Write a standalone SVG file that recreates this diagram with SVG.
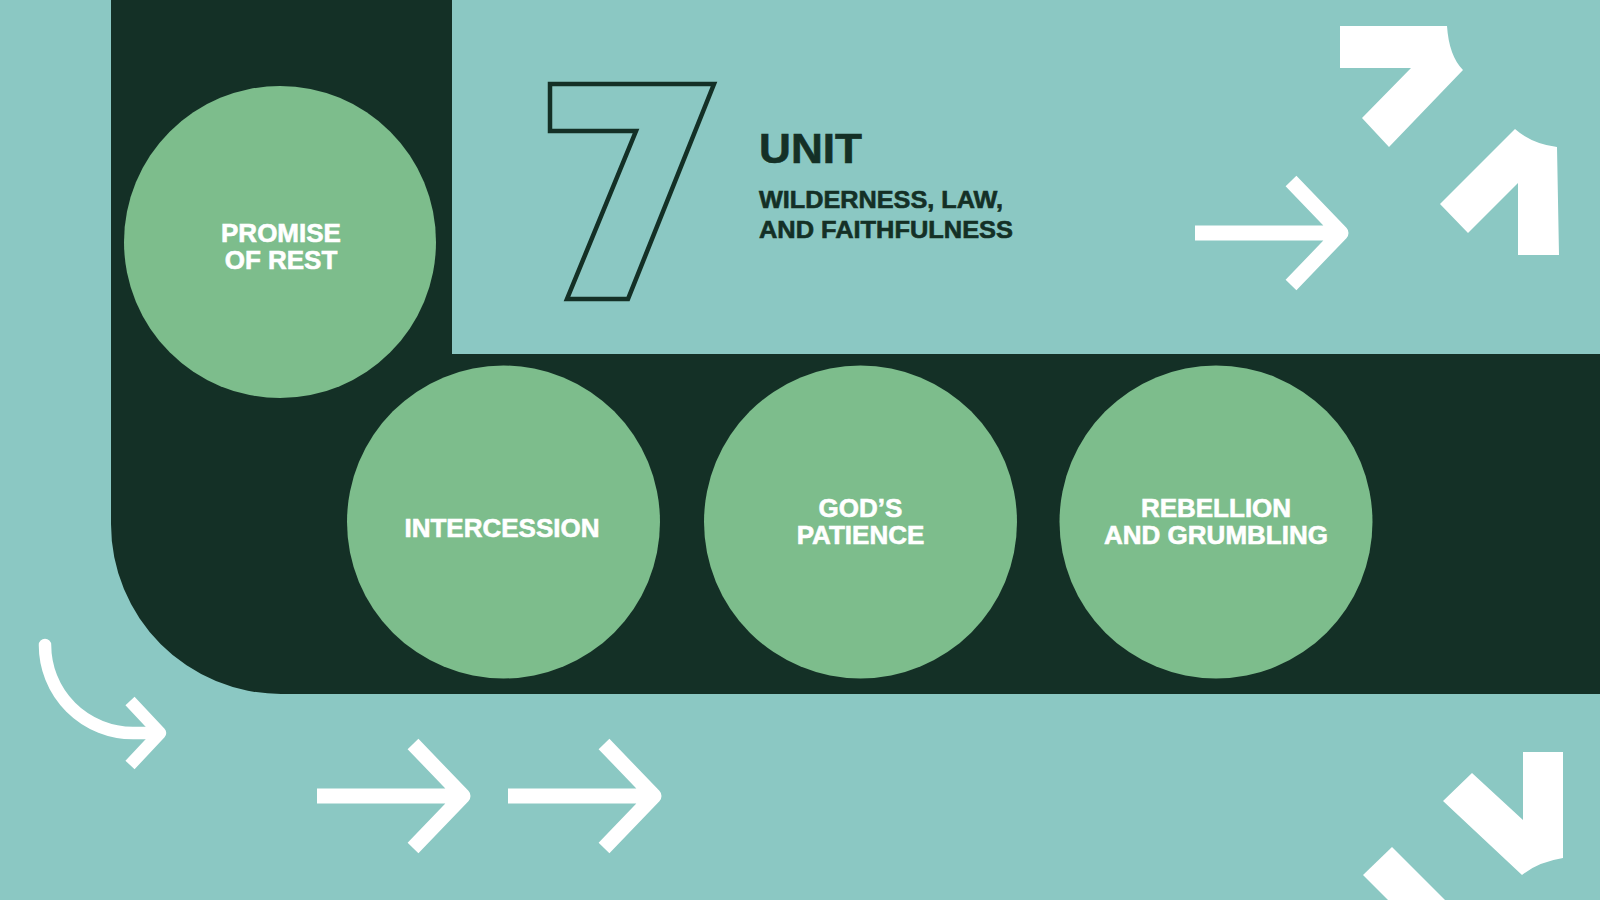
<svg xmlns="http://www.w3.org/2000/svg" width="1600" height="900" viewBox="0 0 1600 900">
  <style>
    .node-circle { fill: #7DBD8C; }
    .label { font-family: "Liberation Sans", Arial, sans-serif; font-weight: 700; font-size: 26px; fill: #FFFFFF; stroke: #FFFFFF; stroke-width: 0.6; text-anchor: middle; }
    .head { font-family: "Liberation Sans", Arial, sans-serif; font-weight: 700; fill: #143026; stroke: #143026; stroke-width: 0.6; }
    .warrow { fill: none; stroke: #FFFFFF; stroke-width: 15; stroke-linejoin: round; stroke-linecap: butt; }
    .deco { fill: #FFFFFF; }
  </style>
  <defs>
    <g id="arrow">
      <path class="warrow" d="M-152,0 H-6 M-56,-52 L-6,0 L-56,52"/>
    </g>
  </defs>

  <rect x="0" y="0" width="1600" height="900" fill="#8BC8C3"/>

  <!-- dark path band -->
  <path d="M111,0 H452 V354 H1600 V694 H281 A170,170 0 0 1 111,524 Z" fill="#143026"/>

  <!-- big 7 outline -->
  <path d="M550,84 L714,84 L628,299 L567,299 L636,131 L550,131 Z" fill="none" stroke="#143026" stroke-width="4.5" stroke-linejoin="miter"/>

  <g id="title">
    <text class="head" x="759" y="163" font-size="42" textLength="103" lengthAdjust="spacingAndGlyphs">UNIT</text>
    <text class="head" x="759" y="208" font-size="24" textLength="244" lengthAdjust="spacingAndGlyphs">WILDERNESS, LAW,</text>
    <text class="head" x="759" y="238" font-size="24" textLength="254" lengthAdjust="spacingAndGlyphs">AND FAITHFULNESS</text>
  </g>

  <g id="node-promise">
    <circle class="node-circle" cx="280" cy="242" r="156"/>
    <text class="label" x="281" y="242">PROMISE</text>
    <text class="label" x="281" y="269">OF REST</text>
  </g>
  <g id="node-intercession">
    <circle class="node-circle" cx="503.5" cy="522" r="156.5"/>
    <text class="label" x="502" y="537">INTERCESSION</text>
  </g>
  <g id="node-patience">
    <circle class="node-circle" cx="860.5" cy="522" r="156.5"/>
    <text class="label" x="860.5" y="517">GOD’S</text>
    <text class="label" x="860.5" y="544">PATIENCE</text>
  </g>
  <g id="node-rebellion">
    <circle class="node-circle" cx="1216" cy="522" r="156.5"/>
    <text class="label" x="1216" y="517">REBELLION</text>
    <text class="label" x="1216" y="544">AND GRUMBLING</text>
  </g>

  <g id="connectors">
    <use href="#arrow" transform="translate(1347,233)"/>
    <use href="#arrow" transform="translate(469,796)"/>
    <use href="#arrow" transform="translate(660,796)"/>
    <path d="M45,645 A88,88 0 0 0 133,733 H158" fill="none" stroke="#FFFFFF" stroke-width="12.5" stroke-linecap="round"/>
    <path d="M130,701 L160,733 L130,765" fill="none" stroke="#FFFFFF" stroke-width="12.5" stroke-linejoin="round"/>
  </g>

  <g id="decorations">
    <path class="deco" d="M1340,26 H1447 Q1449,56 1463,70 L1389,147 L1362,118 L1411,68 H1340 Z"/>
    <path class="deco" d="M1518,255 H1559 L1557,147 Q1532,144 1515,129 L1440,204 L1468,233 L1518,183 Z"/>
    <path class="deco" d="M1523,752 H1563 V858 Q1538,862 1522,875 L1443,801 L1472,773 L1523,820 Z"/>
    <path class="deco" d="M1363,875 L1392,847 L1445,900 H1388 Z"/>
  </g>
</svg>
